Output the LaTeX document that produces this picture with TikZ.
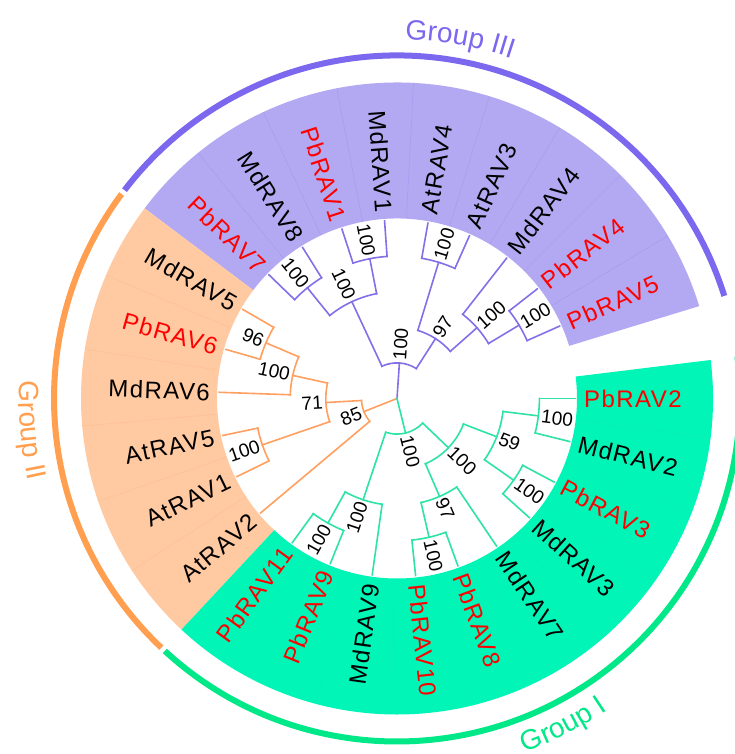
\documentclass[tikz,border=0pt]{standalone}
\usepackage{fontspec}
\setmainfont{Liberation Sans}
\newfontfamily\leaffont[LetterSpace=6]{Liberation Sans}
\usetikzlibrary{calc, decorations.text}

\definecolor{grpIline}{HTML}{2DE3A5}
\definecolor{grpIband}{HTML}{00F5B6}
\definecolor{grpIarc}{HTML}{00E888}
\definecolor{grpIIline}{HTML}{FFA060}
\definecolor{grpIIband}{HTML}{FFC9A2}
\definecolor{grpIIarc}{HTML}{FF9F4F}
\definecolor{grpIIIline}{HTML}{8270E8}
\definecolor{grpIIIband}{HTML}{B3A8F2}
\definecolor{grpIIIarc}{HTML}{7B68EE}

\tikzstyle{brI} = [draw=grpIline, line width=1.6pt, line cap=rect]
\tikzstyle{brII} = [draw=grpIIline, line width=1.6pt, line cap=rect]
\tikzstyle{brIII} = [draw=grpIIIline, line width=1.6pt, line cap=rect]
\tikzstyle{leaf} = [inner sep=0pt, font=\leaffont\fontsize{24}{24}\selectfont]
\tikzstyle{boot} = [inner sep=0pt, font=\fontsize{19}{19}\selectfont]
\tikzstyle{divider} = [line width=0.6pt, draw opacity=0.2]
\tikzstyle{grouparc} = [line width=6pt]

\newcommand{\grpfont}{\fontsize{28}{28}\selectfont}
\def\rtip{178pt}
\def\rI{142.4pt}
\def\rII{106.8pt}
\def\rIII{71.2pt}
\def\rIV{35.6pt}

% text that runs along the radius, turned so it reads left to right
\newcommand{\radtext}[5]{%
  \pgfmathparse{cos(#1)}%
  \ifdim\pgfmathresult pt>0pt
    \node (#5) [#3, anchor=west, rotate=#1] at ({#1}:{#2}) {#4};%
  \else
    \node (#5) [#3, anchor=east, rotate=#1+180] at ({#1}:{#2}) {#4};%
  \fi}

% style, name, radius, angle, bootstrap, child a, angle a, child b, angle b
\newcommand{\clade}[9]{%
  \coordinate (#2) at (#4:#3);
  \draw[#1] (#7:#3) arc[start angle=#7, end angle=#9, radius=#3];
  \draw[#1] ($(root)!#3!(#6)$) -- (#6);
  \draw[#1] ($(root)!#3!(#8)$) -- (#8);
  \radtext{#4}{#3+3pt}{boot}{#5}{b#2}}

% one coloured band of the ring
\newcommand{\band}[3]{%
  \fill[#1] (#2:180pt) arc[start angle=#2, end angle=#3, radius=180pt]
    -- (#3:316pt) arc[start angle=#3, end angle=#2, radius=316pt] -- cycle;}

\begin{document}
\begin{tikzpicture}
\useasboundingbox[fill=white] (-397pt,-355.5pt) rectangle (338pt,398.5pt);
\coordinate (root) at (0,0);

% bands
\band{grpIIIband}{17}{143}
\band{grpIIband}{143}{227}
\band{grpIband}{227}{367}
\foreach \a in {31,45,59,73,87,101,115,129}
  \draw[divider, grpIIIline] (\a:180pt) -- (\a:316pt);
\foreach \a in {157,171,185,199,213}
  \draw[divider, grpIIline] (\a:180pt) -- (\a:316pt);
\foreach \a in {-7,-21,-35,-49,-63,-77,-91,-105,-119}
  \draw[divider, grpIline] (\a:180pt) -- (\a:316pt);

% group arcs
\draw[grouparc, grpIIIarc] (17.4:343pt) arc[start angle=17.4, end angle=142.6, radius=343pt];
\draw[grouparc, grpIIarc] (143.4:343pt) arc[start angle=143.4, end angle=226.6, radius=343pt];
\draw[grouparc, grpIarc] (227.4:343pt) arc[start angle=227.4, end angle=367, radius=343pt];

% group names
\path[decorate, decoration={text along path, text align=center, text color=grpIIIarc,
  text={|\grpfont|Group III}}] (110:359pt) arc[start angle=110, end angle=50, radius=359pt];
\path[decorate, decoration={text along path, text align=center, text color=grpIIarc,
  text={|\grpfont|Group II}}] (160:378pt) arc[start angle=160, end angle=210, radius=378pt];
\path[decorate, decoration={text along path, text align=center, text color=grpIarc,
  text={|\grpfont|Group I}}] (-93:376pt) arc[start angle=-93, end angle=-33, radius=376pt];

% leaves
\foreach \ang/\nm/\col in {0/PbRAV2/red, -14/MdRAV2/black, -28/PbRAV3/red, -42/MdRAV3/black,
    -56/MdRAV7/black, -70/PbRAV8/red, -84/PbRAV10/red, -98/MdRAV9/black, -112/PbRAV9/red,
    -126/PbRAV11/red, 220/AtRAV2/black, 206/AtRAV1/black, 192/AtRAV5/black, 178/MdRAV6/black,
    164/PbRAV6/red, 150/MdRAV5/black, 136/PbRAV7/red, 122/MdRAV8/black, 108/PbRAV1/red,
    94/MdRAV1/black, 80/AtRAV4/black, 66/AtRAV3/black, 52/MdRAV4/black, 38/PbRAV4/red,
    24/PbRAV5/red}{
  \coordinate (\nm) at (\ang:\rtip);
  \radtext{\ang}{187pt}{leaf, text=\col}{\nm}{l\nm}
}

% Group III
\clade{brIII}{nA}{\rI}{129}{100}{PbRAV7}{136}{MdRAV8}{122}
\clade{brIII}{nB}{\rI}{101}{100}{PbRAV1}{108}{MdRAV1}{94}
\clade{brIII}{nP1}{\rII}{115}{100}{nA}{129}{nB}{101}
\clade{brIII}{nC}{\rI}{73}{100}{AtRAV4}{80}{AtRAV3}{66}
\clade{brIII}{nD}{\rI}{31}{100}{PbRAV4}{38}{PbRAV5}{24}
\clade{brIII}{nE}{\rII}{41.5}{100}{MdRAV4}{52}{nD}{31}
\clade{brIII}{nP2}{\rIII}{57.25}{97}{nC}{73}{nE}{41.5}
\clade{brIII}{nP0}{\rIV}{86.125}{100}{nP1}{115}{nP2}{57.25}
% Group II
\clade{brII}{nF}{\rI}{157}{96}{MdRAV5}{150}{PbRAV6}{164}
\clade{brII}{nG}{\rII}{167.5}{100}{nF}{157}{MdRAV6}{178}
\clade{brII}{nH}{\rI}{199}{100}{AtRAV5}{192}{AtRAV1}{206}
\clade{brII}{nI}{\rIII}{183.25}{71}{nG}{167.5}{nH}{199}
\clade{brII}{nJ}{\rIV}{201.625}{85}{nI}{183.25}{AtRAV2}{220}
% Group I
\clade{brI}{nK}{\rI}{-7}{100}{PbRAV2}{0}{MdRAV2}{-14}
\clade{brI}{nL}{\rI}{-35}{100}{PbRAV3}{-28}{MdRAV3}{-42}
\clade{brI}{nM}{\rII}{-21}{59}{nK}{-7}{nL}{-35}
\clade{brI}{nN}{\rI}{-77}{100}{PbRAV8}{-70}{PbRAV10}{-84}
\clade{brI}{nO}{\rII}{-66.5}{97}{MdRAV7}{-56}{nN}{-77}
\clade{brI}{nQ}{\rIII}{-43.75}{100}{nM}{-21}{nO}{-66.5}
\clade{brI}{nS}{\rI}{-119}{100}{PbRAV9}{-112}{PbRAV11}{-126}
\clade{brI}{nT}{\rII}{-108.5}{100}{MdRAV9}{-98}{nS}{-119}
\clade{brI}{nU}{\rIV}{-76.125}{100}{nQ}{-43.75}{nT}{-108.5}

% root
\draw[brIII] (root) -- (nP0);
\draw[brII] (root) -- (nJ);
\draw[brI] (root) -- (nU);
\end{tikzpicture}
\end{document}
